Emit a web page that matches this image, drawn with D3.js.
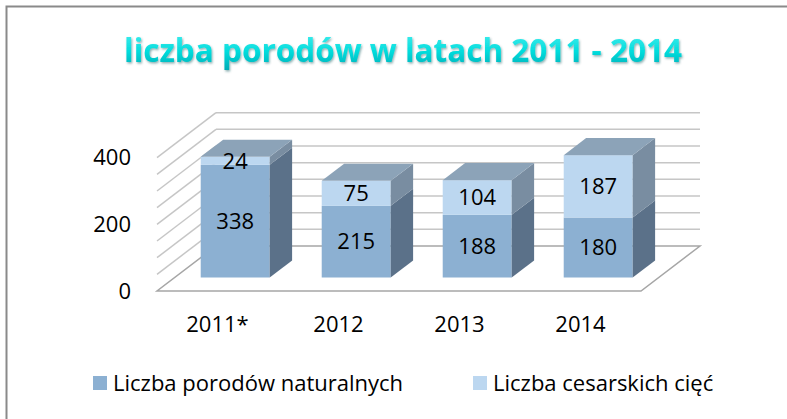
<!DOCTYPE html>
<html>
<head>
<meta charset="utf-8">
<script src="https://cdn.jsdelivr.net/npm/d3@7"></script>
<style>
  body { margin: 0; background: #fff; }
  svg { display: block; font-family: "Open Sans", "Noto Sans", sans-serif; }
</style>
</head>
<body>
<div id="chart"></div>
<script>
// chart values
var categories = ["2011*", "2012", "2013", "2014"];
var natural    = [338, 215, 188, 180];
var cesarean   = [24, 75, 104, 187];
var yTicks     = [0, 200, 400];
var seriesNames  = ["Liczba porodów naturalnych", "Liczba cesarskich cięć"];
var chartTitle = "liczba porodów w latach 2011 - 2014";

var width = 787, height = 419;
var DX = 59, DY = 45;        // full depth offset of the 3d box
var Z0 = 0.3, Z1 = 0.68;     // depth the bars sit at

var svg = d3.select("#chart").append("svg")
    .attr("width", width)
    .attr("height", height);

// outer frame (only top/left visible in the crop)
svg.append("rect")
    .attr("x", 6.5).attr("y", 6.5)
    .attr("width", 820).attr("height", 440)
    .attr("fill", "none")
    .attr("stroke", "#8a8a8a")
    .attr("stroke-width", 2);

var x = d3.scaleBand()
    .domain(categories)
    .range([157, 641])
    .paddingInner(0.43)
    .paddingOuter(0.215);

var y = d3.scaleLinear()
    .domain([0, 400])
    .range([291, 157.7]);

function proj(px, py, z) { return [px + z * DX, py - z * DY]; }
function poly(pts) { return pts.map(function(p) { return p.join(","); }).join(" "); }

var gridVals = y.ticks(10);   // 0,40,...,400
var x0 = x.range()[0], x1 = x.range()[1];

// back wall grid
svg.append("g").selectAll("line")
    .data(gridVals.slice(1))
    .enter().append("line")
    .attr("x1", x0 + DX).attr("x2", x1 + DX)
    .attr("y1", function(d) { return y(d) - DY; })
    .attr("y2", function(d) { return y(d) - DY; })
    .attr("stroke", "#c6c6c6")
    .attr("stroke-width", 1.5);

// side wall grid
svg.append("g").selectAll("line")
    .data(gridVals.slice(1))
    .enter().append("line")
    .attr("x1", x0).attr("y1", function(d) { return y(d); })
    .attr("x2", x0 + DX).attr("y2", function(d) { return y(d) - DY; })
    .attr("stroke", "#c6c6c6")
    .attr("stroke-width", 1.5);

// floor outline
svg.append("polygon")
    .attr("points", poly([proj(x0, y(0), 0), proj(x1, y(0), 0), proj(x1, y(0), 1), proj(x0, y(0), 1)]))
    .attr("fill", "none")
    .attr("stroke", "#a6a6a6")
    .attr("stroke-width", 1.5);

// stacked segments
var segs = [];
categories.forEach(function(c, i) {
    segs.push({cat: c, lo: 0, hi: natural[i], v: natural[i], s: 0, top: cesarean[i] === 0});
    segs.push({cat: c, lo: natural[i], hi: natural[i] + cesarean[i], v: cesarean[i], s: 1, top: true});
});

var frontCol = ["#8cb0d2", "#bcd7f0"];
var sideCol  = ["#5b7189", "#798da1"];
var topCol   = "#8ca3b8";

var bars = svg.append("g").selectAll("g")
    .data(segs)
    .enter().append("g");

bars.append("rect")
    .attr("x", function(d) { return x(d.cat) + Z0 * DX; })
    .attr("y", function(d) { return y(d.hi) - Z0 * DY; })
    .attr("width", x.bandwidth())
    .attr("height", function(d) { return y(d.lo) - y(d.hi); })
    .attr("fill", function(d) { return frontCol[d.s]; });

bars.append("polygon")
    .attr("points", function(d) {
        var r = x(d.cat) + x.bandwidth();
        return poly([proj(r, y(d.lo), Z0), proj(r, y(d.hi), Z0), proj(r, y(d.hi), Z1), proj(r, y(d.lo), Z1)]);
    })
    .attr("fill", function(d) { return sideCol[d.s]; });

bars.filter(function(d) { return d.top; }).append("polygon")
    .attr("points", function(d) {
        var l = x(d.cat), r = l + x.bandwidth();
        return poly([proj(l, y(d.hi), Z0), proj(r, y(d.hi), Z0), proj(r, y(d.hi), Z1), proj(l, y(d.hi), Z1)]);
    })
    .attr("fill", topCol);

bars.append("text")
    .attr("x", function(d) { return x(d.cat) + x.bandwidth() / 2 + Z0 * DX; })
    .attr("y", function(d) { return (y(d.lo) + y(d.hi)) / 2 - Z0 * DY; })
    .attr("dy", "0.35em")
    .attr("text-anchor", "middle")
    .attr("font-size", 22)
    .attr("fill", "#000")
    .text(function(d) { return d.v; });

// value axis labels
svg.append("g").selectAll("text")
    .data(yTicks)
    .enter().append("text")
    .attr("x", 131)
    .attr("y", function(d) { return y(d); })
    .attr("dy", "0.35em")
    .attr("text-anchor", "end")
    .attr("font-size", 22)
    .text(function(d) { return d; });

// category labels
svg.append("g").selectAll("text")
    .data(categories)
    .enter().append("text")
    .attr("x", function(d) { return x(d) + x.bandwidth() / 2; })
    .attr("y", 332)
    .attr("text-anchor", "middle")
    .attr("font-size", 22)
    .text(function(d) { return d; });

// title
var defs = svg.append("defs");
var grad = defs.append("linearGradient")
    .attr("id", "tgrad").attr("x1", 0).attr("y1", 0).attr("x2", 0).attr("y2", 1);
grad.append("stop").attr("offset", "0%").attr("stop-color", "#55f2f2");
grad.append("stop").attr("offset", "55%").attr("stop-color", "#00dcdc");
grad.append("stop").attr("offset", "100%").attr("stop-color", "#00a9b3");
var shadow = defs.append("filter").attr("id", "tshadow");
shadow.append("feDropShadow")
    .attr("dx", 1).attr("dy", 1.5).attr("stdDeviation", 1)
    .attr("flood-color", "#004f55").attr("flood-opacity", 0.45);

svg.append("text")
    .attr("x", 403)
    .attr("y", 62)
    .attr("text-anchor", "middle")
    .attr("font-size", 31.5)
    .attr("font-weight", "bold")
    .attr("fill", "url(#tgrad)")
    .attr("filter", "url(#tshadow)")
    .text(chartTitle);

// legend
var legX = [93, 473];
var leg = svg.append("g").selectAll("g")
    .data(seriesNames)
    .enter().append("g")
    .attr("transform", function(d, i) { return "translate(" + legX[i] + ",383)"; });

leg.append("rect")
    .attr("x", 0).attr("y", -7)
    .attr("width", 14).attr("height", 14)
    .attr("fill", function(d, i) { return frontCol[i]; });

leg.append("text")
    .attr("x", 20)
    .attr("dy", "0.35em")
    .attr("font-size", 22)
    .text(function(d) { return d; });
</script>
</body>
</html>
